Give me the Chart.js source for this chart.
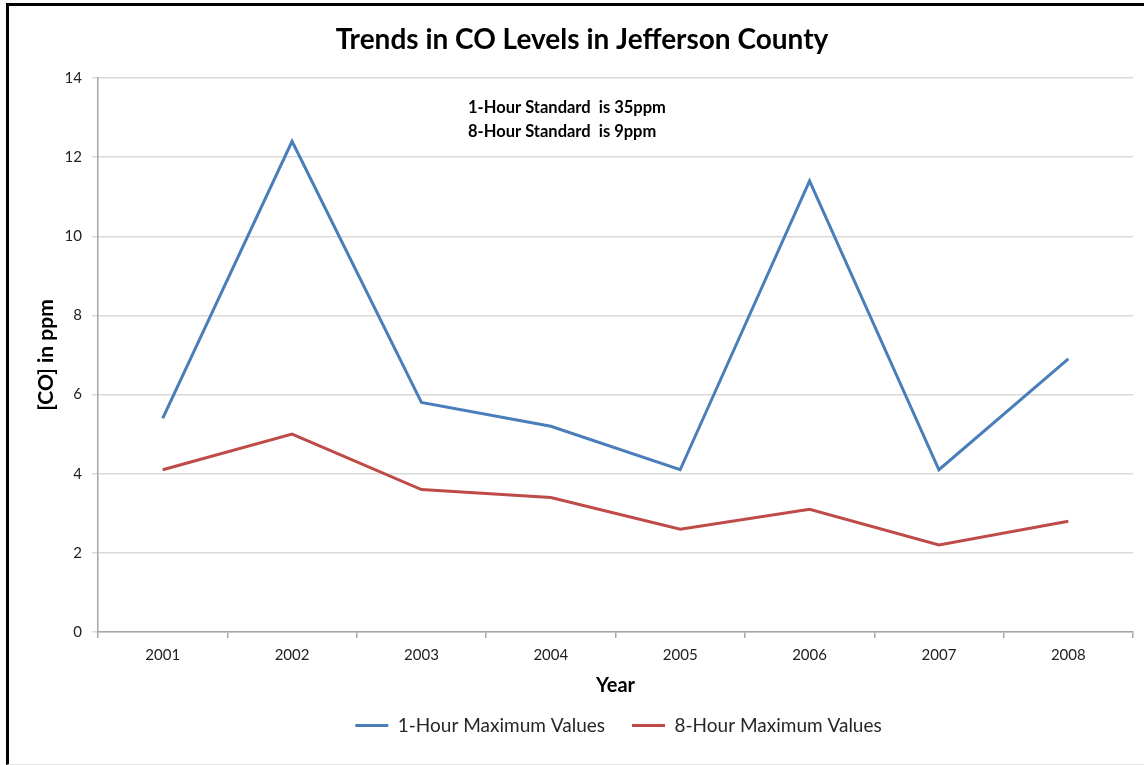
<!DOCTYPE html>
<html>
<head>
<meta charset="utf-8">
<script src="https://cdn.jsdelivr.net/npm/chart.js@4"></script>
<style>
  html, body { margin: 0; padding: 0; background: #fff; }
  #wrap { position: relative; width: 1144px; height: 765px; }
  #frame {
    position: absolute; left: 6px; top: 3px; width: 1150px; height: 758px;
    border-top: 3px solid #000; border-left: 3px solid #000; border-bottom: 1px solid #e4e4e4;
    pointer-events: none;
  }
  canvas { position: absolute; left: 0; top: 0; }
</style>
</head>
<body>
<div id="wrap">
  <canvas id="chart-co" width="1144" height="765"></canvas>
  <div id="frame"></div>
</div>
<script>
const YEARS = ["2001", "2002", "2003", "2004", "2005", "2006", "2007", "2008"];
const ONE_HOUR_MAX = [5.4, 12.4, 5.8, 5.2, 4.1, 11.4, 4.1, 6.9];
const EIGHT_HOUR_MAX = [4.1, 5.0, 3.6, 3.4, 2.6, 3.1, 2.2, 2.8];
const Y_TICKS = [0, 2, 4, 6, 8, 10, 12, 14];
const NOTE_LINES = ["1-Hour Standard  is 35ppm", "8-Hour Standard  is 9ppm"];

const FONT = "Lato, 'Liberation Sans', sans-serif";
const BLUE = "#4a7ebb";
const RED = "#be4b48";

// Text box in the upper part of the plot
const notePlugin = {
  id: "note",
  afterDraw(chart) {
    const { ctx, chartArea } = chart;
    ctx.save();
    ctx.font = "bold 16.5px " + FONT;
    ctx.fillStyle = "#000";
    ctx.textAlign = "left";
    ctx.textBaseline = "middle";
    const x = chartArea.left + 370;
    NOTE_LINES.forEach((line, i) => ctx.fillText(line, x, chartArea.top + 30 + i * 24));
    ctx.restore();
  }
};

// Centre the legend under the plot area and pull it up a little
const legendShift = {
  id: "legendShift",
  afterUpdate(chart) {
    const lg = chart.legend;
    const shift = (chart.chartArea.left + chart.chartArea.right) / 2 + 3 - (lg.left + lg.right) / 2;
    lg.left += shift;
    lg.right += shift;
    lg.top -= 11;
    lg.bottom -= 11;
    lg.adjustHitBoxes();
  }
};

new Chart(document.getElementById("chart-co").getContext("2d"), {
  type: "line",
  data: {
    labels: YEARS,
    datasets: [
      { label: "1-Hour Maximum Values", data: ONE_HOUR_MAX, borderColor: BLUE, backgroundColor: BLUE, borderWidth: 3, pointRadius: 0, tension: 0 },
      { label: "8-Hour Maximum Values", data: EIGHT_HOUR_MAX, borderColor: RED, backgroundColor: RED, borderWidth: 3, pointRadius: 0, tension: 0 }
    ]
  },
  options: {
    responsive: false,
    animation: false,
    layout: { padding: { left: 31, right: 11, top: 0, bottom: 9 } },
    plugins: {
      title: {
        display: true,
        text: "Trends in CO Levels in Jefferson County",
        color: "#000",
        font: { family: FONT, size: 28, weight: "bold" },
        padding: { top: 23, bottom: 21.4 }
      },
      legend: {
        position: "bottom",
        labels: {
          color: "#262626",
          font: { family: FONT, size: 19 },
          boxWidth: 33,
          boxHeight: 3,
          padding: 27,
          generateLabels(chart) {
            return Chart.defaults.plugins.legend.labels.generateLabels(chart).map((l) => ({ ...l, lineWidth: 0 }));
          }
        }
      },
      tooltip: { enabled: false }
    },
    scales: {
      x: {
        offset: true,
        grid: { offset: true, drawOnChartArea: false, drawTicks: true, tickLength: 6, color: "#a6a6a6", lineWidth: 1.5 },
        border: { color: "#a6a6a6", width: 1.5 },
        ticks: { color: "#222", font: { family: FONT, size: 15 }, padding: 8 },
        title: { display: true, text: "Year", color: "#000", font: { family: FONT, size: 20, weight: "bold" }, padding: { top: 4, bottom: 2 } },
        afterFit(s) { s.height = 68; }
      },
      y: {
        min: 0,
        max: 14,
        afterBuildTicks(s) { s.ticks = Y_TICKS.map((v) => ({ value: v })); },
        grid: { color: "#d9d9d9", lineWidth: 1.5, tickLength: 6, drawTicks: true },
        border: { color: "#a6a6a6", width: 1.5 },
        ticks: { color: "#222", font: { family: FONT, size: 15 }, padding: 10 },
        title: { display: true, text: "[CO] in ppm", color: "#000", font: { family: FONT, size: 21, weight: "bold" }, padding: { top: 3, bottom: 4 } },
        afterFit(s) { s.width = 67; }
      }
    }
  },
  plugins: [notePlugin, legendShift]
});
</script>
</body>
</html>
